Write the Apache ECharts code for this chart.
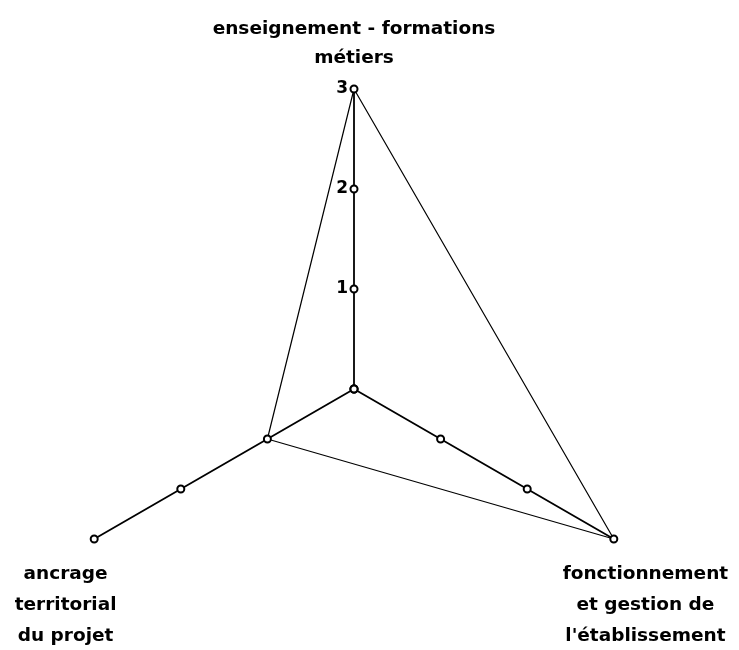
<!DOCTYPE html>
<html>
<head>
<meta charset="utf-8">
<script src="https://cdn.jsdelivr.net/npm/echarts@6/dist/echarts.min.js"></script>
<style>
html, body { margin: 0; padding: 0; background: #fff; }
#main { width: 739px; height: 650px; }
</style>
</head>
<body>
<div id="main"></div>
<script>
// axes of the radar (order: top, bottom-left, bottom-right)
var axisNames = ['enseignement - formations\nmétiers', 'ancrage\nterritorial\ndu projet', 'fonctionnement\net gestion de\nl\'établissement'];
var axisMax = 3;
var values = [3, 1, 3];
var tickValues = [0, 1, 2, 3];

var myChart = echarts.init(document.getElementById('main'));

var font = '"DejaVu Sans", "Liberation Sans", sans-serif';

// per-axis name offsets (bottom names sit under the axis ends)
var namePads = [[0, 0, 13, 0], [18, 52, 0, 0], [18, 0, 0, 58]];

var indicator = [];
for (var i = 0; i < axisNames.length; i++) {
    var ind = { name: axisNames[i], max: axisMax, min: 0 };
    if (i == 0) {
        ind.axisLabel = { show: true };
        ind.nameMoveOverlap = false;
        ind.nameTextStyle = { lineHeight: 29, padding: namePads[i] };
    } else {
        ind.axisLabel = { show: false };
        ind.nameTextStyle = { align: 'center', verticalAlign: 'top', lineHeight: 31, padding: namePads[i] };
    }
    indicator.push(ind);
}

// marker rings at each tick on every axis
var tickSeries = [];
for (var k = 0; k < tickValues.length; k++) {
    tickSeries.push({
        value: [tickValues[k], tickValues[k], tickValues[k]],
        symbol: 'emptyCircle',
        symbolSize: 7,
        lineStyle: { opacity: 0 },
        itemStyle: { color: '#000', borderColor: '#000', borderWidth: 1.5 }
    });
}

option = {
    animation: false,
    backgroundColor: '#fff',
    radar: {
        center: [354, 389],
        radius: 300,
        startAngle: 90,
        splitNumber: 3,
        shape: 'polygon',
        indicator: indicator,
        axisName: {
            color: '#000',
            fontFamily: font,
            fontWeight: 'bold',
            fontSize: 18.5,
            lineHeight: 29
        },
        axisNameGap: 3,
        axisLine: { lineStyle: { color: '#000', width: 1.8 } },
        splitLine: { show: false },
        splitArea: { show: false },
        axisTick: { show: false },
        axisLabel: {
            color: '#000',
            fontFamily: font,
            fontWeight: 'bold',
            fontSize: 17,
            showMinLabel: false,
            margin: 6
        }
    },
    series: [{
        type: 'radar',
        z: 2,
        symbol: 'none',
        lineStyle: { color: '#000', width: 1.2 },
        data: [{ value: values }]
    }, {
        type: 'radar',
        z: 3,
        data: tickSeries
    }]
};

if (option && typeof option === "object") {
    myChart.setOption(option, true);
}
</script>
</body>
</html>
